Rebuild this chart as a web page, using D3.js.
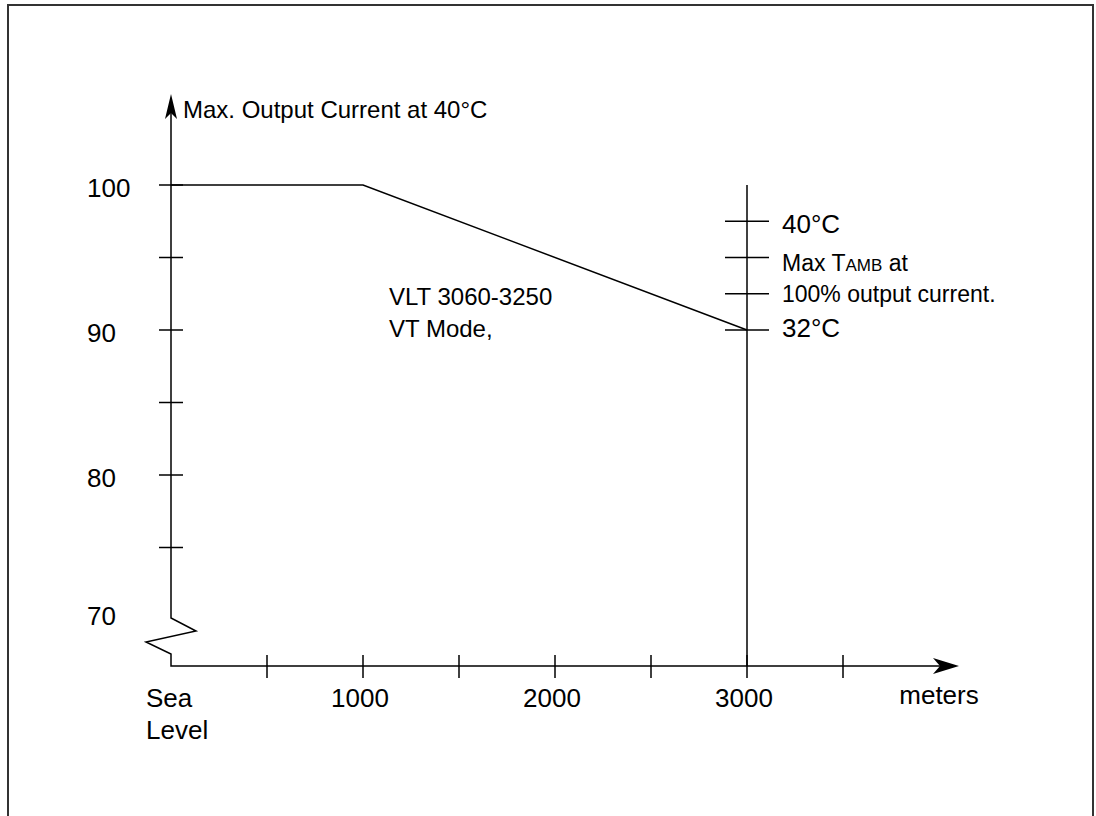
<!DOCTYPE html>
<html>
<head>
<meta charset="utf-8">
<script src="https://cdnjs.cloudflare.com/ajax/libs/d3/7.8.5/d3.min.js"></script>
<style>
  body { margin: 0; background: #fff; }
  text { font-family: "Liberation Sans", Arial, sans-serif; fill: #000; }
</style>
</head>
<body>
<script>
// size of the picture
var w = 1096;
var h = 816;

// derating curve: altitude (m) against max output current (%)
var altitude = [0, 1000, 3000];
var current = [100, 100, 90];

// ticks and labels
var yTickValues = [100, 95, 90, 85, 80, 75];
var yLabelValues = [100, 90, 80, 70];
var xTickValues = [500, 1000, 1500, 2000, 2500, 3000, 3500];
var xLabelValues = [1000, 2000, 3000];
var tempTickValues = [97.5, 95, 92.5, 90];
var tempLabelValues = [97.25, 94.6, 92.5, 90.05];
var tempLabels = ["40°C", "Max TAMB at", "100% output current.", "32°C"];

var svg = d3.select("body")
  .append("svg")
  .attr("width", w)
  .attr("height", h);

// frame
svg.append("rect")
  .attr("x", 8).attr("y", 5)
  .attr("width", 1085).attr("height", 830)
  .attr("fill", "none")
  .attr("stroke", "#333")
  .attr("stroke-width", 2);

// scales
var x = d3.scaleLinear().domain([0, 3500]).range([171, 843]);
var y = d3.scaleLinear().domain([70, 100]).range([620, 185]);

var x0 = x(0);
var yBase = 666;

var axisStyle = function(sel) {
  sel.attr("fill", "none").attr("stroke", "#000").attr("stroke-width", 1.5);
};

// y axis with the break zigzag, then x axis
svg.append("path")
  .attr("d", d3.line()([
    [x0, 112], [x0, 618], [x0 + 25, 631], [x0 - 25, 642], [x0, 654], [x0, yBase], [950, yBase]
  ]))
  .call(axisStyle);

// arrow heads
svg.append("path")
  .attr("d", "M" + x0 + ",94 L" + (x0 + 6) + ",119 L" + x0 + ",113 L" + (x0 - 6) + ",119 Z")
  .attr("fill", "#000");
svg.append("path")
  .attr("d", "M959," + yBase + " L933," + (yBase - 8) + " L940," + yBase + " L933," + (yBase + 8) + " Z")
  .attr("fill", "#000");

// y ticks
svg.selectAll(".ytick")
  .data(yTickValues)
  .enter()
  .append("line")
  .attr("class", "ytick")
  .attr("x1", x0 - 12).attr("x2", x0 + 12)
  .attr("y1", function(d) { return y(d); })
  .attr("y2", function(d) { return y(d); })
  .call(axisStyle);

svg.selectAll(".ylabel")
  .data(yLabelValues)
  .enter()
  .append("text")
  .attr("class", "ylabel")
  .attr("x", 87)
  .attr("y", function(d) { return y(d) + 12 - (d == 70 ? 7 : 0); })
  .attr("font-size", "26px")
  .text(function(d) { return d; });

// x ticks
svg.selectAll(".xtick")
  .data(xTickValues)
  .enter()
  .append("line")
  .attr("class", "xtick")
  .attr("x1", function(d) { return x(d); })
  .attr("x2", function(d) { return x(d); })
  .attr("y1", yBase - 11).attr("y2", yBase + 12)
  .call(axisStyle);

svg.selectAll(".xlabel")
  .data(xLabelValues)
  .enter()
  .append("text")
  .attr("class", "xlabel")
  .attr("x", function(d) { return x(d) - 3; })
  .attr("y", 707)
  .attr("text-anchor", "middle")
  .attr("font-size", "26px")
  .text(function(d) { return d; });

var sea = svg.append("text")
  .attr("x", 146).attr("y", 707)
  .attr("font-size", "26px");
sea.append("tspan").attr("x", 146).text("Sea");
sea.append("tspan").attr("x", 146).attr("dy", 32).text("Level");

svg.append("text")
  .attr("x", x(4000)).attr("y", 704)
  .attr("text-anchor", "middle")
  .attr("font-size", "26px")
  .text("meters");

svg.append("text")
  .attr("x", 183).attr("y", 118)
  .attr("font-size", "24px")
  .text("Max. Output Current at 40°C");

// derating curve
svg.append("path")
  .datum(d3.zip(altitude, current))
  .attr("d", d3.line()
    .x(function(d) { return x(d[0]); })
    .y(function(d) { return y(d[1]); }))
  .call(axisStyle);

// 3000 m marker with temperature ticks
svg.append("line")
  .attr("x1", x(3000)).attr("x2", x(3000))
  .attr("y1", y(100)).attr("y2", yBase)
  .call(axisStyle);

svg.selectAll(".ttick")
  .data(tempTickValues)
  .enter()
  .append("line")
  .attr("class", "ttick")
  .attr("x1", x(3000) - 22).attr("x2", x(3000) + 22)
  .attr("y1", function(d) { return y(d); })
  .attr("y2", function(d) { return y(d); })
  .call(axisStyle);

tempLabels.forEach(function(t, i) {
  var lab = svg.append("text")
    .attr("x", 782)
    .attr("y", y(tempLabelValues[i]) + 8)
    .attr("font-size", (i == 0 || i == 3) ? "26px" : "23px");
  if (t.indexOf("TAMB") >= 0) {
    lab.append("tspan").text("Max T");
    lab.append("tspan").attr("font-size", "17px").text("AMB");
    lab.append("tspan").text(" at");
  } else {
    lab.text(t);
  }
});

// model note
var note = svg.append("text")
  .attr("x", 389).attr("y", 305)
  .attr("font-size", "24px");
note.append("tspan").attr("x", 389).text("VLT 3060-3250");
note.append("tspan").attr("x", 389).attr("dy", 32).text("VT Mode,");
</script>
</body>
</html>
